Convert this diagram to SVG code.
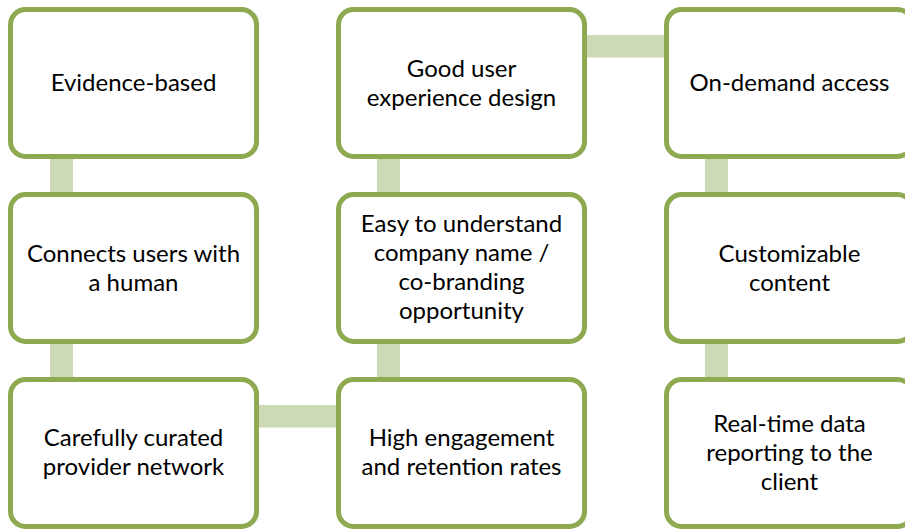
<svg xmlns="http://www.w3.org/2000/svg" width="905" height="529" viewBox="0 0 905 529">
<style>
.box{fill:#fff;stroke:#8EA94F;stroke-width:5}
.bar{fill:#CCDAB5}
text{font-family:Lato,"Open Sans","Liberation Sans",sans-serif;font-size:24px;fill:#000;text-anchor:middle}
</style>
<rect width="905" height="529" fill="#fff"/>
<g id="connectors">
<rect class="bar" x="50" y="150" width="23" height="50"/>
<rect class="bar" x="50" y="335" width="23" height="50"/>
<rect class="bar" x="250" y="405" width="95" height="22.5"/>
<rect class="bar" x="377" y="335" width="23" height="50"/>
<rect class="bar" x="377" y="150" width="23" height="50"/>
<rect class="bar" x="580" y="35" width="95" height="22.5"/>
<rect class="bar" x="705" y="150" width="23" height="50"/>
<rect class="bar" x="705" y="335" width="23" height="50"/>
</g>
<g id="n1"><rect class="box" x="10.5" y="9.5" width="246" height="147" rx="15"/><text x="133.5" y="91">Evidence-based</text></g>
<g id="n2"><rect class="box" x="10.5" y="194.5" width="246" height="147" rx="15"/><text x="133.5" y="262">Connects users with</text><text x="133.5" y="291">a human</text></g>
<g id="n3"><rect class="box" x="10.5" y="379.5" width="246" height="147" rx="15"/><text x="133.5" y="446">Carefully curated</text><text x="133.5" y="475">provider network</text></g>
<g id="n4"><rect class="box" x="338.5" y="379.5" width="246" height="147" rx="15"/><text x="461.5" y="446">High engagement</text><text x="461.5" y="475">and retention rates</text></g>
<g id="n5"><rect class="box" x="338.5" y="194.5" width="246" height="147" rx="15"/><text x="461.5" y="232">Easy to understand</text><text x="461.5" y="261">company name /</text><text x="461.5" y="290">co-branding</text><text x="461.5" y="319">opportunity</text></g>
<g id="n6"><rect class="box" x="338.5" y="9.5" width="246" height="147" rx="15"/><text x="461.5" y="77">Good user</text><text x="461.5" y="106">experience design</text></g>
<g id="n7"><rect class="box" x="666.5" y="9.5" width="246" height="147" rx="15"/><text x="789.5" y="91">On-demand access</text></g>
<g id="n8"><rect class="box" x="666.5" y="194.5" width="246" height="147" rx="15"/><text x="789.5" y="262">Customizable</text><text x="789.5" y="291">content</text></g>
<g id="n9"><rect class="box" x="666.5" y="379.5" width="246" height="147" rx="15"/><text x="789.5" y="432">Real-time data</text><text x="789.5" y="461">reporting to the</text><text x="789.5" y="490">client</text></g>
</svg>
